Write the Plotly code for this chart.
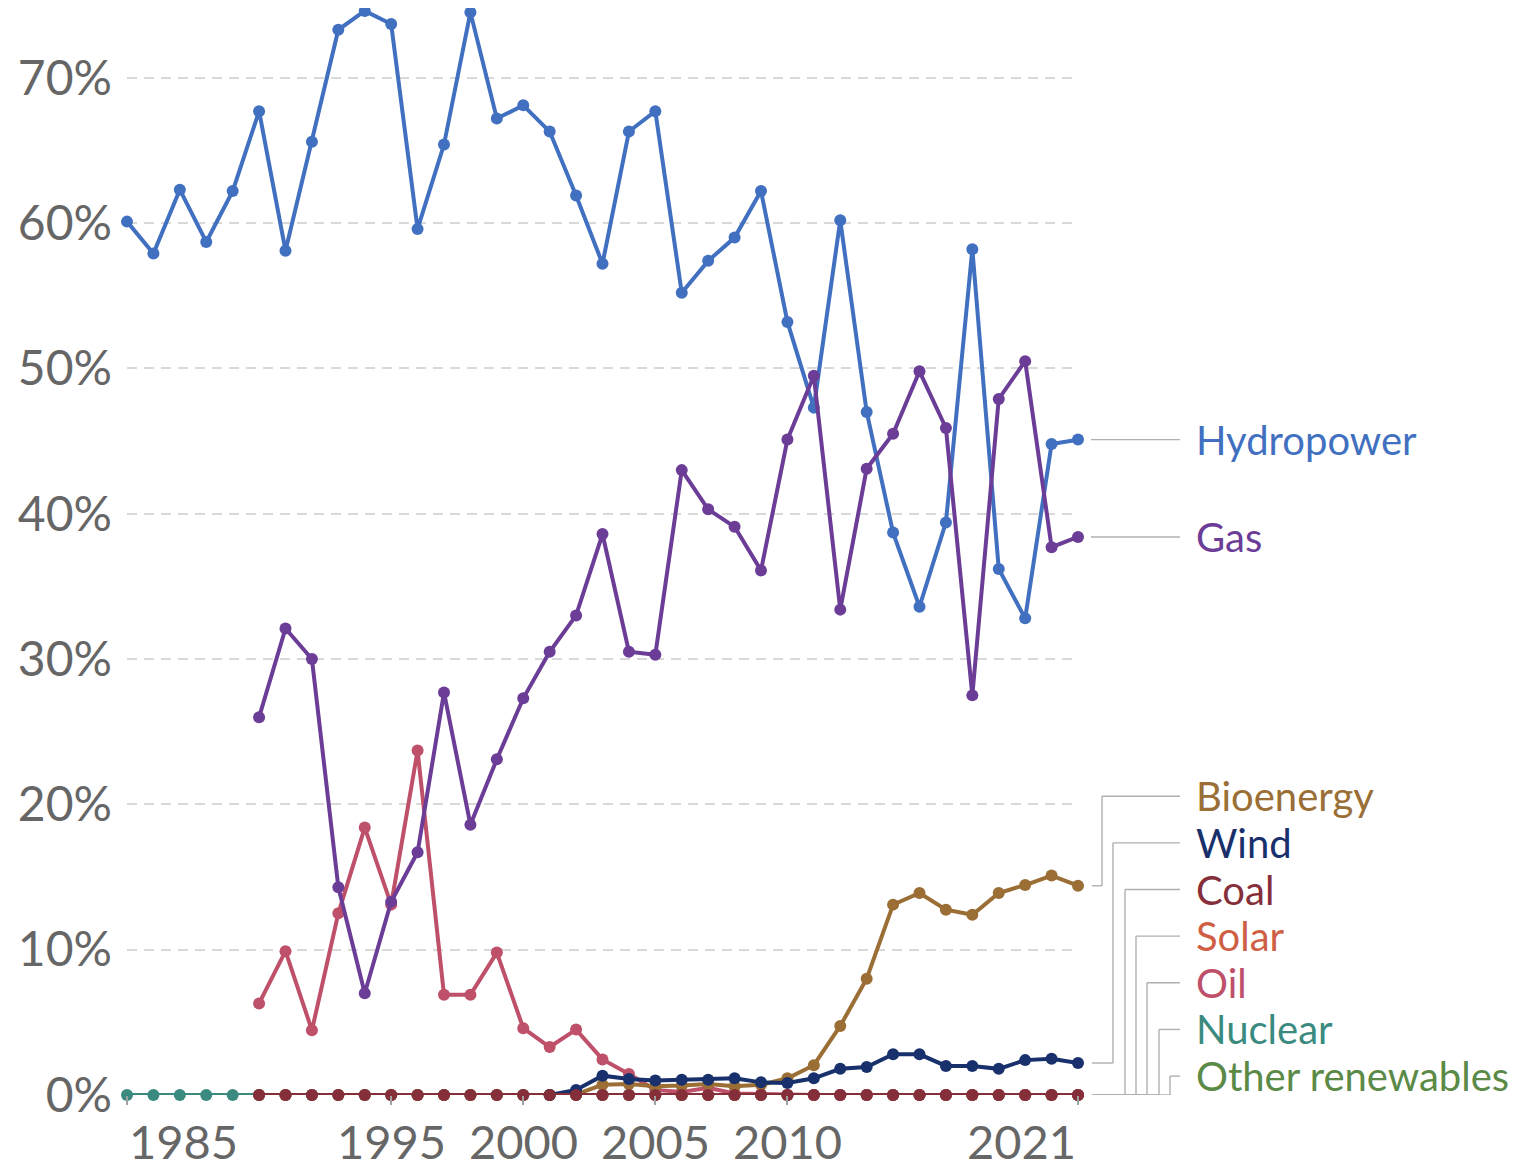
import plotly.graph_objects as go

# ---------------- data ----------------
years_all = [1985, 1986, 1987, 1988, 1989, 1990, 1991, 1992, 1993, 1994, 1995, 1996,
             1997, 1998, 1999, 2000, 2001, 2002, 2003, 2004, 2005, 2006, 2007, 2008,
             2009, 2010, 2011, 2012, 2013, 2014, 2015, 2016, 2017, 2018, 2019, 2020, 2021]
years_1990 = years_all[5:]
years_2001 = years_all[16:]
years_2002 = years_all[17:]

hydropower = [60.1, 57.9, 62.3, 58.7, 62.2, 67.7, 58.1, 65.6, 73.3, 74.6, 73.7, 59.6,
              65.4, 74.5, 67.2, 68.1, 66.3, 61.9, 57.2, 66.3, 67.7, 55.2, 57.4, 59.0,
              62.2, 53.2, 47.3, 60.2, 47.0, 38.7, 33.6, 39.4, 58.2, 36.2, 32.8, 44.8, 45.1]
gas = [26.0, 32.1, 30.0, 14.3, 7.0, 13.3, 16.7, 27.7, 18.6, 23.1,
       27.3, 30.5, 33.0, 38.6, 30.5, 30.3, 43.0, 40.3, 39.1, 36.1,
       45.1, 49.5, 33.4, 43.1, 45.5, 49.8, 45.9, 27.5, 47.9, 50.5, 37.7, 38.4]
oil = [6.3, 9.9, 4.45, 12.5, 18.4, 13.1, 23.7, 6.9, 6.9, 9.8,
       4.6, 3.3, 4.5, 2.45, 1.45, 0.35, 0.2, 0.5, 0.1, 0.05,
       0.0, 0.0, 0.0, 0.0, 0.0, 0.0, 0.0, 0.0, 0.0, 0.0, 0.0, 0.0]
coal = [0.0] * 32
solar = [0.0] * 32
other_renewables = [0.0] * 32
nuclear = [0.0] * 37
wind = [0.0, 0.35, 1.33, 1.1, 1.0, 1.05, 1.05, 1.15, 0.87, 0.83, 1.15, 1.8, 1.93,
        2.8, 2.8, 2.0, 2.0, 1.8, 2.4, 2.5, 2.2]
bioenergy = [0.05, 0.7, 0.75, 0.6, 0.65, 0.75, 0.6, 0.7, 1.15, 2.05, 4.75, 8.0,
             13.1, 13.9, 12.75, 12.4, 13.9, 14.45, 15.1, 14.4]

y_ticks = [0, 10, 20, 30, 40, 50, 60, 70]
y_tick_text = ["0%", "10%", "20%", "30%", "40%", "50%", "60%", "70%"]
x_ticks = [1985, 1995, 2000, 2005, 2010, 2021]

# ---------------- styling ----------------
FONT = "Lato, 'Open Sans', sans-serif"
colors = {
    "Hydropower": "#4170C0",
    "Gas": "#6B3D96",
    "Oil": "#BE5069",
    "Coal": "#852F3A",
    "Nuclear": "#3A8A80",
    "Bioenergy": "#9A6E35",
    "Wind": "#18306B",
    "Solar": "#CF5F44",
    "Other renewables": "#5B8A47",
}

series = [
    ("Other renewables", years_1990, other_renewables),
    ("Nuclear", years_all, nuclear),
    ("Solar", years_1990, solar),
    ("Oil", years_1990, oil),
    ("Bioenergy", years_2002, bioenergy),
    ("Wind", years_2001, wind),
    ("Hydropower", years_all, hydropower),
    ("Gas", years_1990, gas),
    ("Coal", years_1990, coal),
]

fig = go.Figure()
for name, xs, ys in series:
    fig.add_trace(go.Scatter(
        x=xs, y=ys, name=name, mode="lines+markers",
        line=dict(color=colors[name], width=4),
        marker=dict(color=colors[name], size=12),
        cliponaxis=False, showlegend=False,
    ))

last_year = years_all[-1]

# ---------------- right-hand labels ----------------
label_font_size = 40
conn_color = "#b0b0b0"
shapes = []
annotations = []


def conn(x0, x1, y0, y1):
    # x offsets are pixels from the right edge of the plot (the last year)
    return dict(type="line", xref="paper", yref="y", xsizemode="pixel", xanchor=1,
                x0=x0, x1=x1, y0=y0, y1=y1, line=dict(color=conn_color, width=1.4))


for name, ys in [("Hydropower", hydropower), ("Gas", gas)]:
    yv = ys[-1]
    shapes.append(conn(13, 102, yv, yv))
    annotations.append(dict(x=last_year, y=yv, xref="x", yref="y", xanchor="left", yanchor="middle",
                            xshift=116, text=name, showarrow=False,
                            font=dict(family=FONT, size=label_font_size, color=colors[name])))

stacked = [("Bioenergy", bioenergy), ("Wind", wind), ("Coal", coal), ("Solar", solar),
           ("Oil", oil), ("Nuclear", nuclear), ("Other renewables", other_renewables)]
slot_bottom = 1.3
slot_step = 3.21
elbow_x = [24, 35, 47, 58, 69, 81, 92]
for i, (name, ys) in enumerate(stacked):
    y_end = ys[-1]
    y_lab = slot_bottom + slot_step * (len(stacked) - 1 - i)
    ex = elbow_x[i]
    shapes.append(conn(14, ex, y_end, y_end))
    shapes.append(conn(ex, ex, y_end, y_lab))
    shapes.append(conn(ex, 102, y_lab, y_lab))
    annotations.append(dict(x=last_year, y=y_lab, xref="x", yref="y", xanchor="left", yanchor="middle",
                            xshift=116, text=name, showarrow=False,
                            font=dict(family=FONT, size=label_font_size, color=colors[name])))

# ---------------- x tick labels ----------------
for t in x_ticks:
    if t == x_ticks[0]:
        anchor = "left"
    elif t == x_ticks[-1]:
        anchor = "right"
    else:
        anchor = "center"
    annotations.append(dict(x=t, y=0, xref="x", yref="y", xanchor=anchor, yanchor="middle",
                            yshift=-46, text=str(t), showarrow=False,
                            font=dict(family=FONT, size=47, color="#666666")))

# the page body adds an 8px offset, so the figure is drawn 8px smaller
fig.update_layout(
    width=1508, height=1157,
    margin=dict(l=119, r=438, t=0, b=70),
    paper_bgcolor="white", plot_bgcolor="white",
    font=dict(family=FONT, color="#666666"),
    shapes=shapes, annotations=annotations,
    showlegend=False,
    xaxis=dict(range=[years_all[0], last_year], showgrid=False, zeroline=False, showline=False,
               tickvals=x_ticks, showticklabels=False, ticks="outside", ticklen=9,
               tickcolor="#a0a0a0", tickwidth=1.5, automargin=False),
    yaxis=dict(range=[0, 74.8], tickvals=y_ticks, ticktext=y_tick_text,
               showgrid=True, gridcolor="#d9d9d9", gridwidth=2, griddash="10px,7px",
               zeroline=False, showline=False, ticks="", automargin=False,
               tickfont=dict(family=FONT, size=48, color="#666666"),
               ticklabelstandoff=14),
)

fig.write_html("out.html")
